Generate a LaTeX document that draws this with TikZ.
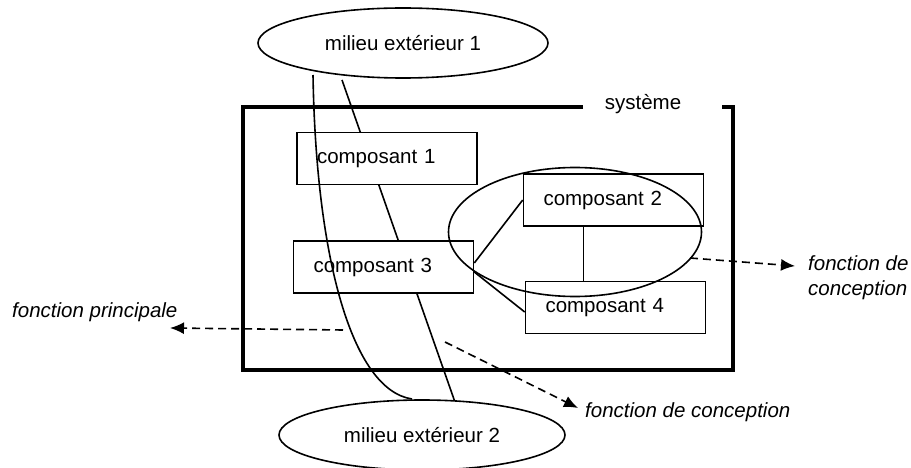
\documentclass[tikz,border=0pt]{standalone}
\usepackage{fontspec}
\setmainfont{Liberation Sans}
\usetikzlibrary{arrows,shapes,arrows.meta,calc}
\tikzset{%
  >={Latex[width=12pt,length=14pt]},
  % styles des noeuds
        compo/.style = {rectangle, draw=black, line width=1.6pt, fill=white,
                        minimum height=52pt, text width=140pt, inner xsep=20pt,
                        align=left, font=\fontsize{20.5}{25}\selectfont},
       milieu/.style = {ellipse, draw=black, line width=1.6pt, minimum width=290pt,
                        minimum height=70pt, inner sep=0pt, fill=white,
                        font=\fontsize{20.5}{25}\selectfont},
         fonc/.style = {inner sep=0pt, font=\fontsize{20.5}{25}\selectfont\itshape},
         lien/.style = {line width=1.6pt},
    pointille/.style = {-{Latex[width=12pt,length=14pt]}, line width=1.6pt, dash pattern=on 8pt off 5pt}
                           }

\begin{document}
\begin{tikzpicture}[x=1pt, y=-1pt]
    \useasboundingbox (0,0) rectangle (911,468);

    % traversee directe (cachee par les composants)
    \coordinate (b1) at (342,80);
    \coordinate (b2) at (456,405);
    \draw[lien] (b1) -- (b2);

    \node (ext1) [milieu]                     at (403,43)  { milieu extérieur 1 };
    \node (ext2) [milieu, minimum width=286pt] at (422,435) { milieu extérieur 2 };

    % le systeme
    \node (sys) [inner sep=0pt, anchor=base, font=\fontsize{20.5}{25}\selectfont] at (643,110) { système };
    \draw[line width=3.5pt] (583,107) -- (243,107) -- (243,370) -- (733,370) -- (733,107) -- (722,107);

    \node (comp1) [compo] at (387,158.5) { composant 1 };
    \node (comp3) [compo] at (383.5,267) { composant 3 };
    \node (comp2) [compo] at (613.5,200) { composant 2 };
    \node (comp4) [compo] at (615.5,307.5) { composant 4 };

    \draw[lien]  ([yshift=4pt]comp3.east)  -- (comp2.west);
    \draw[lien]  ([yshift=-5pt]comp3.east) -- ([yshift=-4.5pt]comp4.west);
    \draw[lien]  ([xshift=-30pt]comp2.south) -- ([xshift=-30pt]comp2.south |- comp4.north);

    \node (conc) [ellipse, draw=black, line width=1.6pt, minimum width=253pt,
                  minimum height=129pt] at (575,232) {};

    % traversee principale
    \coordinate (a1) at (313,75);
    \coordinate (a2) at (412,399);
    \draw[lien] (a1) .. controls (316,258) and (352,390) .. (a2);

    % fonctions
    \node (fp)  [fonc, anchor=base west] at (12,317)  { fonction principale };
    \node (fc1) [fonc, anchor=base west] at (585,417) { fonction de conception };
    \node (fc2) [fonc, anchor=base west] at (808,270) { fonction de };
    \node (fc3) [fonc, anchor=base west] at ([yshift=-25pt]fc2.base west) { conception };

    \coordinate (p1) at (343,330);  \coordinate (p2) at (170,328);
    \coordinate (q1) at (445,342);  \coordinate (q2) at (578,408);
    \coordinate (r1) at (690,258);  \coordinate (r2) at (795,266);
    \draw[pointille] (p1) -- (p2);
    \draw[pointille] (q1) -- (q2);
    \draw[pointille] (r1) -- (r2);
\end{tikzpicture}
\end{document}
